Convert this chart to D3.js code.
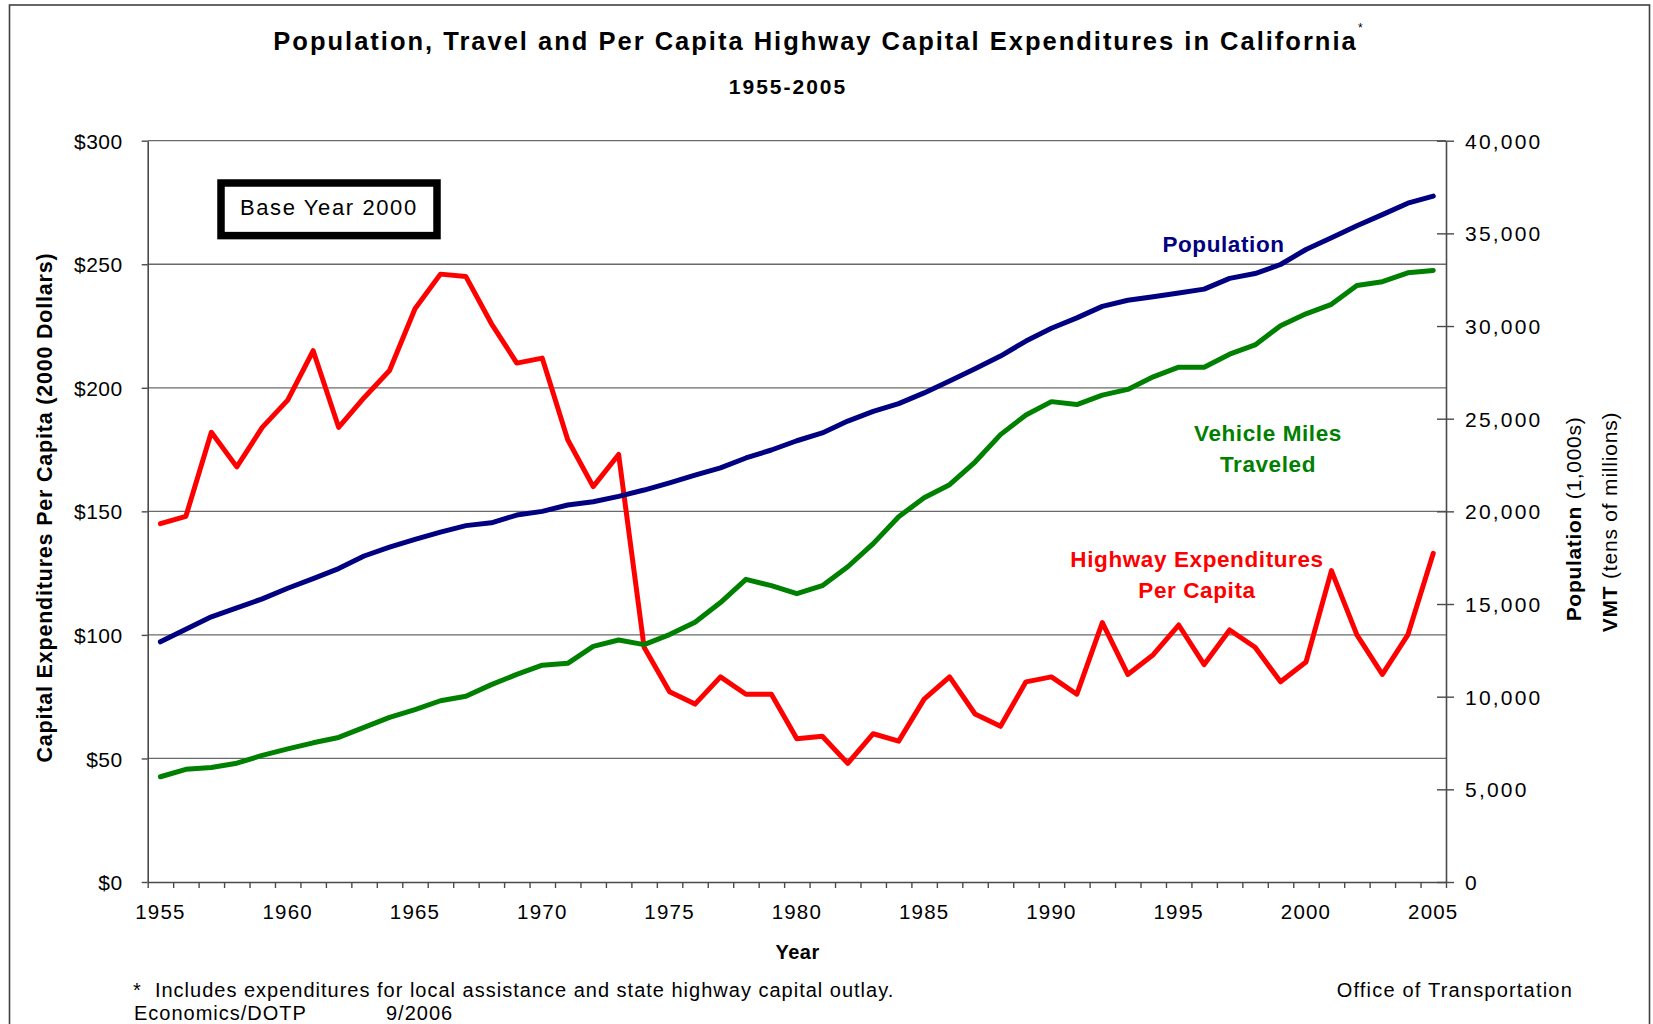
<!DOCTYPE html>
<html>
<head>
<meta charset="utf-8">
<script src="https://cdn.jsdelivr.net/npm/d3@7"></script>
<style>
  body { margin: 0; background: #fff; }
  text { font-family: "Liberation Sans", Arial, sans-serif; fill: #000; }
</style>
</head>
<body>
<script>
// data
const years = d3.range(1955, 2006);
const yearLabels = [1955, 1960, 1965, 1970, 1975, 1980, 1985, 1990, 1995, 2000, 2005];

const expenditure = [145, 148, 182, 168, 184, 195, 215, 184, 196, 207,
  232, 246, 245, 226, 210, 212, 179, 160, 173, 95,
  77, 72, 83, 76, 76, 58, 59, 48, 60, 57,
  74, 83, 68, 63, 81, 83, 76, 105, 84, 92,
  104, 88, 102, 95, 81, 89, 126, 100, 84, 100, 133];

const population = [12960, 13640, 14310, 14790, 15280, 15850, 16370, 16910, 17590, 18070,
  18490, 18880, 19230, 19380, 19800, 20000, 20340, 20520, 20810, 21150,
  21540, 21960, 22350, 22880, 23310, 23810, 24230, 24870, 25390, 25810,
  26390, 27030, 27700, 28380, 29190, 29880, 30440, 31060, 31390, 31580,
  31780, 31990, 32570, 32830, 33320, 34130, 34760, 35410, 36010, 36630, 37010];

const vmt = [5680, 6080, 6180, 6410, 6830, 7180, 7510, 7800, 8340, 8880,
  9300, 9780, 10020, 10650, 11200, 11700, 11800, 12710, 13060, 12810,
  13350, 14020, 15080, 16330, 15990, 15560, 15990, 17010, 18260, 19710,
  20730, 21440, 22660, 24140, 25200, 25920, 25760, 26270, 26580, 27260,
  27780, 27780, 28480, 28980, 30020, 30660, 31170, 32190, 32390, 32870, 33000];

const leftTicks = [0, 50, 100, 150, 200, 250, 300];
const rightTicks = [0, 5000, 10000, 15000, 20000, 25000, 30000, 35000, 40000];

// layout
const width = 1653;
const height = 1024;
const plotLeft = 147.7;
const plotRight = 1446;
const plotTop = 140.7;
const plotBottom = 882;

const svg = d3.select("body").append("svg")
  .attr("width", width)
  .attr("height", height);

svg.append("rect").attr("width", width).attr("height", height).attr("fill", "#fff");

// outer frame
svg.append("rect")
  .attr("x", 9.5).attr("y", 5)
  .attr("width", 1640).attr("height", 1040)
  .attr("fill", "none")
  .attr("stroke", "#404040")
  .attr("stroke-width", 1.6);

// scales
const x = d3.scaleBand().domain(years).range([plotLeft, plotRight]);
const xEdge = d3.scaleLinear().domain([1955, 2006]).range([plotLeft, plotRight]);
const yLeft = d3.scaleLinear().domain([0, 300]).range([plotBottom, plotTop]);
const yRight = d3.scaleLinear().domain([0, 40000]).range([plotBottom, plotTop]);
const cx = (d) => x(d) + x.bandwidth() / 2;

// gridlines
svg.append("g")
  .selectAll("line")
  .data(leftTicks.filter((d) => d > 0))
  .enter()
  .append("line")
  .attr("x1", plotLeft)
  .attr("x2", plotRight)
  .attr("y1", (d) => yLeft(d))
  .attr("y2", (d) => yLeft(d))
  .attr("stroke", "#6a6a6a")
  .attr("stroke-width", 1.3);

// left axis
const leftAxis = svg.append("g")
  .attr("transform", `translate(${plotLeft},0)`)
  .call(d3.axisLeft(yLeft).tickValues(leftTicks).tickFormat((d) => "$" + d)
    .tickSizeInner(6).tickSizeOuter(0).tickPadding(19));
leftAxis.selectAll("text").style("font-size", "21px").style("letter-spacing", "0.5px")
  .attr("dy", "0.36em");

// right axis
const rightAxis = svg.append("g")
  .attr("transform", `translate(${plotRight},0)`)
  .call(d3.axisRight(yRight).tickValues(rightTicks).tickFormat(d3.format(","))
    .tickSizeInner(8).tickSizeOuter(0).tickPadding(11));
rightAxis.selectAll(".tick line").attr("x1", -9).attr("x2", 8);
rightAxis.selectAll("text").style("font-size", "21px").style("letter-spacing", "2.2px")
  .attr("dy", "0.36em");

// bottom axis: ticks at category edges, labels at centres
svg.append("g")
  .attr("transform", `translate(0,${plotBottom})`)
  .call(d3.axisBottom(xEdge).tickValues(d3.range(1955, 2007)).tickFormat("")
    .tickSizeInner(6).tickSizeOuter(0));
const bottomLabels = svg.append("g")
  .attr("transform", `translate(0,${plotBottom})`)
  .call(d3.axisBottom(x).tickValues(yearLabels).tickSize(0).tickPadding(0));
bottomLabels.select(".domain").remove();
bottomLabels.selectAll("text")
  .attr("y", 37.3).attr("dy", null)
  .style("font-size", "20.5px").style("letter-spacing", "1.2px");

svg.selectAll(".domain").attr("stroke", "#4a4a4a").attr("stroke-width", 1.6);
svg.selectAll(".tick line").attr("stroke", "#4a4a4a").attr("stroke-width", 1.4);

// series
const lineLeft = d3.line().x((d, i) => cx(years[i])).y((d) => yLeft(d));
const lineRight = d3.line().x((d, i) => cx(years[i])).y((d) => yRight(d));

const series = [
  { values: expenditure, line: lineLeft, color: "#ff0000" },
  { values: population, line: lineRight, color: "#000080" },
  { values: vmt, line: lineRight, color: "#008000" }
];

svg.append("g")
  .selectAll("path")
  .data(series)
  .enter()
  .append("path")
  .attr("d", (d) => d.line(d.values))
  .attr("fill", "none")
  .attr("stroke", (d) => d.color)
  .attr("stroke-width", 5)
  .attr("stroke-linejoin", "round")
  .attr("stroke-linecap", "round");

// series labels
const labels = [
  { lines: ["Population"], x: 1223.5, y: 251.5, color: "#000080" },
  { lines: ["Vehicle Miles", "Traveled"], x: 1268, y: 441, color: "#008000" },
  { lines: ["Highway Expenditures", "Per Capita"], x: 1197, y: 567, color: "#ff0000" }
];
labels.forEach((l) => {
  l.lines.forEach((t, i) => {
    svg.append("text")
      .attr("x", l.x)
      .attr("y", l.y + i * 30.5)
      .attr("text-anchor", "middle")
      .style("font-size", "22.5px")
      .style("font-weight", "bold")
      .style("letter-spacing", "0.6px")
      .style("fill", l.color)
      .text(t);
  });
});

// base year box
svg.append("rect")
  .attr("x", 221).attr("y", 183)
  .attr("width", 216).attr("height", 52.6)
  .attr("fill", "#fff")
  .attr("stroke", "#000")
  .attr("stroke-width", 7.5);
svg.append("text")
  .attr("x", 240).attr("y", 215)
  .style("font-size", "22px")
  .style("letter-spacing", "1.6px")
  .text("Base Year 2000");

// titles
svg.append("text")
  .attr("x", 815.5).attr("y", 50)
  .attr("text-anchor", "middle")
  .style("font-size", "25.5px")
  .style("font-weight", "bold")
  .style("letter-spacing", "2px")
  .text("Population, Travel and Per Capita Highway Capital Expenditures in California");
svg.append("text")
  .attr("x", 1358).attr("y", 32)
  .style("font-size", "12px")
  .text("*");
svg.append("text")
  .attr("x", 788).attr("y", 94)
  .attr("text-anchor", "middle")
  .style("font-size", "21px")
  .style("font-weight", "bold")
  .style("letter-spacing", "2px")
  .text("1955-2005");

// axis titles
svg.append("text")
  .attr("transform", "translate(52,507.5) rotate(-90)")
  .attr("text-anchor", "middle")
  .style("font-size", "21.5px")
  .style("font-weight", "bold")
  .style("letter-spacing", "0.8px")
  .text("Capital Expenditures Per Capita (2000 Dollars)");

const popTitle = svg.append("text")
  .attr("transform", "translate(1581,519) rotate(-90)")
  .attr("text-anchor", "middle")
  .style("font-size", "21px")
  .style("letter-spacing", "0.7px");
popTitle.append("tspan").style("font-weight", "bold").text("Population");
popTitle.append("tspan").text(" (1,000s)");

const vmtTitle = svg.append("text")
  .attr("transform", "translate(1617,522) rotate(-90)")
  .attr("text-anchor", "middle")
  .style("font-size", "21px")
  .style("letter-spacing", "0.8px");
vmtTitle.append("tspan").style("font-weight", "bold").text("VMT");
vmtTitle.append("tspan").text(" (tens of millions)");

svg.append("text")
  .attr("x", 797.6).attr("y", 959)
  .attr("text-anchor", "middle")
  .style("font-size", "20px")
  .style("font-weight", "bold")
  .style("letter-spacing", "0.5px")
  .text("Year");

// footnotes
const note = (txt, xPos, yPos, anchor, spacing) =>
  svg.append("text")
    .attr("x", xPos).attr("y", yPos)
    .attr("text-anchor", anchor)
    .style("font-size", "20px")
    .style("letter-spacing", spacing)
    .style("white-space", "pre")
    .text(txt);

note("*  Includes expenditures for local assistance and state highway capital outlay.", 133, 996.5, "start", "1px");
note("Office of Transportation", 1573, 996.5, "end", "1.2px");
note("Economics/DOTP", 134, 1020, "start", "1px");
note("9/2006", 386, 1020, "start", "1px");
</script>
</body>
</html>
